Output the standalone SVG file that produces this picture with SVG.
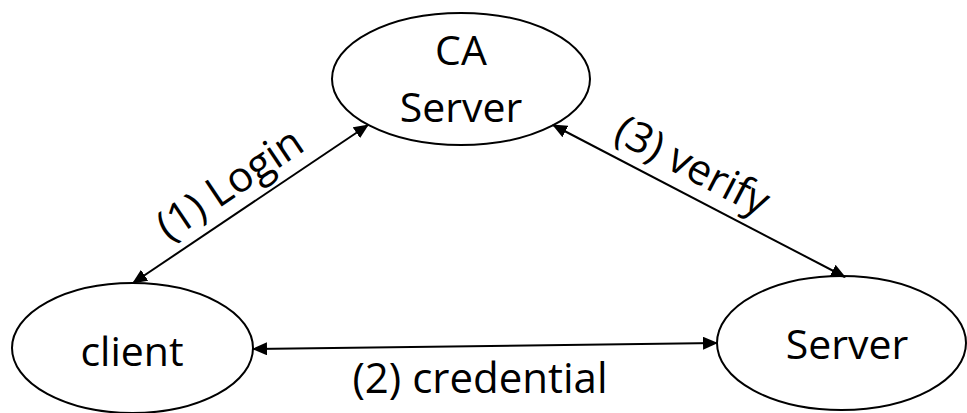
<svg xmlns="http://www.w3.org/2000/svg" width="967" height="413" viewBox="0 0 967 413">
  <style>
    .node { fill: #ffffff; stroke: #000000; stroke-width: 2; }
    .ntext { font-family: "Open Sans", "Liberation Sans", sans-serif; font-size: 41px; fill: #000000; text-anchor: middle; }
    .ltext { font-family: "Open Sans", "Liberation Sans", sans-serif; font-size: 42px; fill: #000000; text-anchor: middle; }
    .edge { stroke: #000000; stroke-width: 2; fill: none; marker-start: url(#arrow); marker-end: url(#arrow); }
  </style>
  <defs>
    <marker id="arrow" markerUnits="userSpaceOnUse" viewBox="0 0 15 13" markerWidth="15" markerHeight="13" refX="14" refY="6.5" orient="auto-start-reverse">
      <path d="M0,0 L15,6.5 L0,13 Z" fill="#000000"/>
    </marker>
  </defs>
  <rect width="967" height="413" fill="#ffffff"/>
  <g id="nodes">
    <g id="ca-server">
      <ellipse class="node" cx="461" cy="79" rx="129" ry="66"/>
      <text class="ntext" x="461" y="65">CA</text>
      <text class="ntext" x="461" y="122">Server</text>
    </g>
    <g id="client">
      <ellipse class="node" cx="132.5" cy="348" rx="120.5" ry="65"/>
      <text class="ntext" x="132" y="366">client</text>
    </g>
    <g id="server">
      <ellipse class="node" cx="841.5" cy="343" rx="124.5" ry="67"/>
      <text class="ntext" x="847" y="359">Server</text>
    </g>
  </g>
  <g id="connectors">
    <line class="edge" x1="133" y1="283" x2="368" y2="125"/>
    <line class="edge" x1="253" y1="349" x2="717" y2="343"/>
    <line class="edge" x1="553" y1="125" x2="845" y2="277"/>
  </g>
  <g id="labels">
    <text class="ltext" transform="translate(250.5,204) rotate(-33.9)" x="-6" y="-14">(1) Login</text>
    <text class="ltext" x="480" y="393">(2) credential</text>
    <text class="ltext" transform="translate(699,201) rotate(27.5)" x="-22" y="-14">(3) verify</text>
  </g>
</svg>
